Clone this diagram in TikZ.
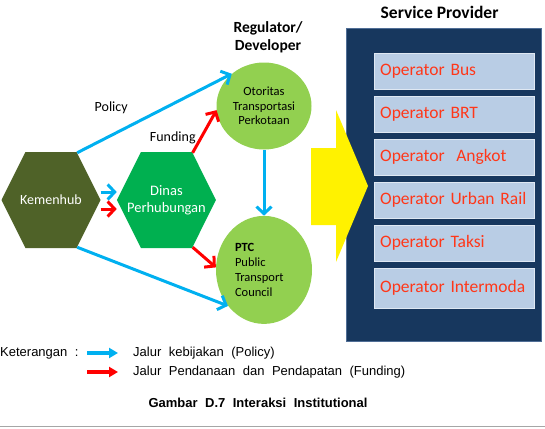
\documentclass[tikz,border=0pt]{standalone}
\usepackage{fontspec}
\setmainfont{Carlito}
\newfontfamily\arialfont{Liberation Sans}
\usepackage{tikz}
\usetikzlibrary{arrows.meta}
\usetikzlibrary{shapes.geometric, shapes.symbols}
\usetikzlibrary{positioning, calc}
\definecolor{olivehex}{RGB}{79,98,40}
\definecolor{greenhex}{RGB}{0,176,80}
\definecolor{lightgreen}{RGB}{146,208,80}
\definecolor{policyblue}{RGB}{0,176,240}
\definecolor{fundred}{RGB}{255,0,0}
\definecolor{navyfill}{RGB}{23,55,94}
\definecolor{navyline}{RGB}{80,110,150}
\definecolor{opfill}{RGB}{185,205,229}
\definecolor{optext}{RGB}{255,55,25}
\newcommand{\legfont}{\arialfont\fontsize{13}{15}\selectfont\spaceskip=7.5pt\relax}
\tikzstyle{hexa} = [signal, signal to=west and east, signal pointer angle=127, minimum width=99pt, minimum height=96pt, inner ysep=0pt, inner xsep=-16pt, text=white, align=center]
\tikzstyle{body} = [ellipse, fill=lightgreen, inner sep=0pt, font=\fontsize{12.5}{14.7}\selectfont]
\tikzstyle{operator} = [rectangle, fill=opfill, draw=white!55!opfill, minimum width=160pt, minimum height=36pt, text width=148pt, inner xsep=6pt, align=left, text=optext, font=\fontsize{17.5}{20}\selectfont]
\tikzstyle{policy} = [-{Straight Barb[length=7pt,width=15pt]}, line width=3pt, policyblue]
\tikzstyle{funding} = [-{Straight Barb[length=7pt,width=15pt]}, line width=3pt, fundred]
\tikzstyle{legend} = [inner sep=0pt, anchor=west, font=\legfont]

\begin{document}
\begin{tikzpicture}[x=1pt,y=-1pt]
  \useasboundingbox (0,0) rectangle (545,428);

  \node[hexa, fill=olivehex, font=\fontsize{14}{16}\selectfont] (kemenhub) at (51,200) {Kemenhub};
  \node[hexa, fill=greenhex, font=\fontsize{14.5}{17}\selectfont, right=16pt of kemenhub] (dinas) {Dinas\\Perhubungan};

  \node[body, align=center, minimum width=95pt, minimum height=87pt] (otoritas) at (264,106) {Otoritas\\Transportasi\\Perkotaan};
  \node[body, align=left, text width=58pt, minimum width=96pt, minimum height=108pt, below=66pt of otoritas] (ptc) {\textbf{PTC}\\Public\\Transport\\Council};

  \node[inner sep=0pt, align=center, font=\bfseries\fontsize{15.5}{18}\selectfont, above=9pt of otoritas, xshift=4pt] (regulator) {Regulator/\\Developer};

  % service provider block
  \node[rectangle, fill=navyfill, draw=navyline, line width=1.2pt, minimum width=195pt, minimum height=313pt, anchor=north west] (provider) at (346,28) {};
  \node[inner sep=0pt, font=\bfseries\fontsize{17.5}{20}\selectfont, above=9pt of provider, xshift=-4.5pt] (servtitle) {Service Provider};

  \fill[yellow] (311,148) -- (336,148) -- (336,110) -- (368,186) -- (336,262) -- (336,225) -- (311,225) -- cycle;

  \node[operator, anchor=north west] (op1) at (374,53) {Operator Bus};
  \node[operator, below=6.5pt of op1] (op2) {Operator BRT};
  \node[operator, below=6.5pt of op2] (op3) {Operator\ \ Angkot};
  \node[operator, below=6.5pt of op3] (op4) {Operator Urban Rail};
  \node[operator, below=6.5pt of op4] (op5) {Operator Taksi};
  \node[operator, minimum height=40pt, below=6.5pt of op5] (op6) {Operator Intermoda};

% now link the nodes

\draw [policy] (kemenhub.61) -- node[pos=0.22, yshift=28pt, text=black, font=\fontsize{14}{16}\selectfont] {Policy} (otoritas.135);
\draw [policy] (kemenhub.-61) -- (ptc.225);
\draw [policy] ([yshift=8pt]kemenhub.east) -- ([yshift=8pt]dinas.west);
\draw [funding] ([yshift=-9pt]kemenhub.east) -- ([yshift=-9pt]dinas.west);
\draw [funding] (dinas.61) -- node[pos=0.3, xshift=-27pt, yshift=2pt, text=black, font=\fontsize{14}{16}\selectfont] {Funding} (otoritas.185);
\draw [funding] (dinas.-61) -- (ptc.177);
\draw [policy] (otoritas) -- (ptc);

% legend
\node[legend] (keterangan) at (0,353) {Keterangan :};
\coordinate (lbs) at (87,353);
\coordinate (lbe) at (118,353);
\coordinate (lrs) at (87,372);
\coordinate (lre) at (118,372);
\draw [-{Triangle[length=9pt,width=10pt]}, line width=3.5pt, policyblue] (lbs) -- (lbe);
\draw [-{Triangle[length=9pt,width=10pt]}, line width=3.5pt, fundred] (lrs) -- (lre);
\node[legend] (jalurpolicy) at (133,353) {Jalur kebijakan (Policy)};
\node[legend] (jalurfunding) at (133,372) {Jalur Pendanaan dan Pendapatan (Funding)};

\node[inner sep=0pt, font=\legfont\bfseries] (caption) at (258,403) {Gambar D.7 Interaksi Institutional};

\draw [gray!70, line width=1.5pt] (0,426.5) -- (545,426.5);
\end{tikzpicture}
\end{document}
